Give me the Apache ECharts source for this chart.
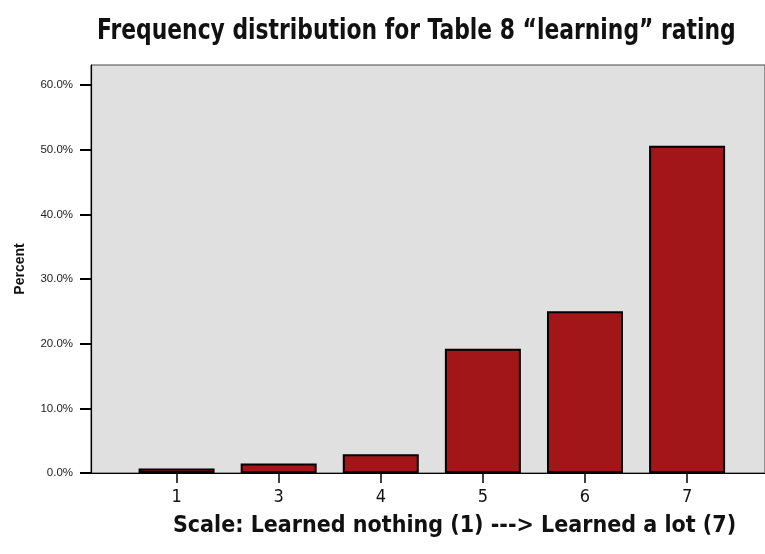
<!DOCTYPE html>
<html>
<head>
<meta charset="utf-8">
<script src="https://cdn.jsdelivr.net/npm/echarts@6/dist/echarts.min.js"></script>
<style>
  html, body { margin: 0; padding: 0; background: #fff; }
  #chart { width: 765px; height: 554px; }
</style>
</head>
<body>
<div id="chart"></div>
<script>
// rating categories (no one answered 2) and share of respondents in %
const categories = ['1', '3', '4', '5', '6', '7']
const percents = [0.7, 1.45, 2.9, 19.2, 25.0, 50.6]
const yTicks = [0, 10, 20, 30, 40, 50, 60]

const narrow = '"Liberation Sans Narrow", "DejaVu Sans Condensed", sans-serif'
const positions = categories.map((c, i) => i)

const chart = echarts.init(document.getElementById('chart'))
chart.setOption({
  animation: false,
  // title drawn as graphic so it can be squeezed like the narrow original font
  graphic: [{
    type: 'text',
    x: 97,
    y: 17,
    scaleX: 0.838,
    style: {
      text: 'Frequency distribution for Table 8 \u201clearning\u201d rating',
      font: 'bold 29px ' + narrow,
      fill: '#111'
    }
  }],
  grid: {
    left: 91,
    top: 65,
    width: 675,
    bottom: 81,
    show: true,
    backgroundColor: '#e0e0e0',
    borderColor: '#444',
    borderWidth: 1
  },
  xAxis: {
    type: 'value',
    min: -0.838,
    max: 5.763,
    name: 'Scale: Learned nothing (1) ---> Learned a lot (7)',
    nameLocation: 'middle',
    nameGap: 42,
    nameTextStyle: {
      fontFamily: narrow,
      fontSize: 23,
      fontWeight: 'bold',
      color: '#111',
      padding: [0, 0, 0, 53]
    },
    splitLine: { show: false },
    axisLine: { lineStyle: { color: '#000', width: 1.2 } },
    axisTick: {
      customValues: positions,
      length: 10,
      lineStyle: { color: '#000', width: 1.5 }
    },
    axisLabel: {
      customValues: positions,
      formatter: v => categories[v],
      margin: 15,
      fontFamily: narrow,
      fontSize: 18,
      color: '#111'
    }
  },
  yAxis: {
    type: 'value',
    min: 0,
    max: 63.1,
    name: 'Percent',
    nameLocation: 'middle',
    nameGap: 64,
    nameTextStyle: {
      fontFamily: 'Liberation Sans, Arial, sans-serif',
      fontSize: 14,
      fontWeight: 'bold',
      color: '#111'
    },
    splitLine: { show: false },
    axisLine: { show: true, onZero: false, lineStyle: { color: '#000', width: 1.2 } },
    axisTick: {
      customValues: yTicks,
      length: 11,
      lineStyle: { color: '#000', width: 2 }
    },
    axisLabel: {
      customValues: yTicks,
      formatter: v => v.toFixed(1) + '%',
      margin: 18,
      fontFamily: 'Liberation Sans, Arial, sans-serif',
      fontSize: 11.5,
      color: '#222'
    }
  },
  series: [{
    type: 'bar',
    barWidth: 76,
    data: positions.map(i => [i, percents[i]]),
    itemStyle: {
      color: '#a2161a',
      borderColor: '#000',
      borderWidth: 2
    }
  }]
})
</script>
</body>
</html>
